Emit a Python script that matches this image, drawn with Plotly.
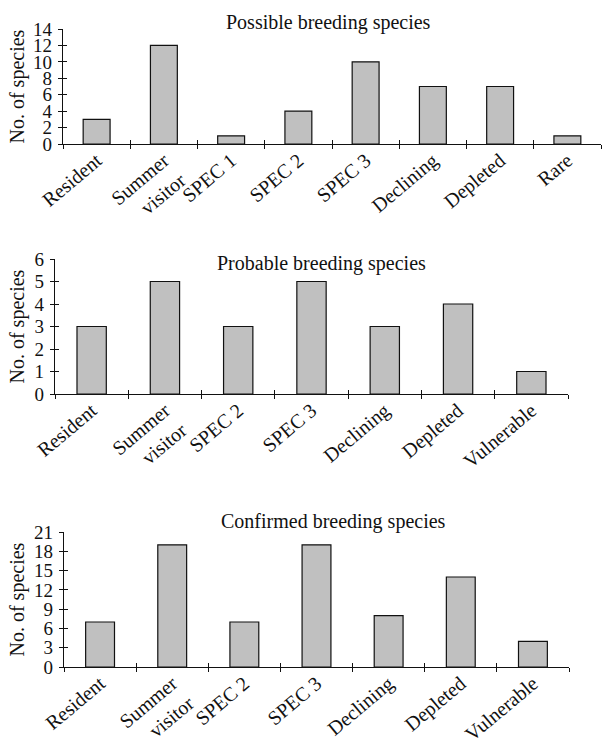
import plotly.graph_objects as go

# ---------------- data ----------------
possible_cats = ["Resident", "Summer<br>visitor", "SPEC 1", "SPEC 2", "SPEC 3",
                 "Declining", "Depleted", "Rare"]
possible_vals = [3, 12, 1, 4, 10, 7, 7, 1]

probable_cats = ["Resident", "Summer<br>visitor", "SPEC 2", "SPEC 3",
                 "Declining", "Depleted", "Vulnerable"]
probable_vals = [3, 5, 3, 5, 3, 4, 1]

confirmed_cats = ["Resident", "Summer<br>visitor", "SPEC 2", "SPEC 3",
                  "Declining", "Depleted", "Vulnerable"]
confirmed_vals = [7, 19, 7, 19, 8, 14, 4]

titles = ["Possible breeding species", "Probable breeding species",
          "Confirmed breeding species"]
y_ranges = [(0, 14, 2), (0, 6, 1), (0, 21, 3)]
y_label = "No. of species"

# ---------------- layout geometry (pixels) ----------------
W, H = 602, 740
FONT = "Liberation Serif"
panels = [
    dict(cats=possible_cats, vals=possible_vals, x0=63, x1=601, top=29, bot=144,
         tx=328, ty=22),
    dict(cats=probable_cats, vals=probable_vals, x0=55, x1=568, top=259, bot=394,
         tx=322, ty=263),
    dict(cats=confirmed_cats, vals=confirmed_vals, x0=64, x1=569, top=532, bot=667,
         tx=333, ty=521),
]

fig = go.Figure()
layout = dict(
    template="none",
    width=W, height=H, margin=dict(l=0, r=0, t=0, b=0, autoexpand=False),
    paper_bgcolor="white", plot_bgcolor="white",
    font=dict(family=FONT, size=19, color="#111"),
    showlegend=False, bargap=0.6, annotations=[],
)

for i, p in enumerate(panels):
    n = i + 1
    m = i + 4  # overlay axes for inner tick halves
    xs = "" if n == 1 else str(n)
    xd = [p["x0"] / W, p["x1"] / W]
    yd = [1 - p["bot"] / H, 1 - p["top"] / H]
    ymin, ymax, dt = y_ranges[i]

    fig.add_trace(go.Bar(
        x=p["cats"], y=p["vals"], xaxis="x" + xs, yaxis="y" + xs,
        marker=dict(color="#c0c0c0", line=dict(color="#111", width=1.2)),
        hoverinfo="skip",
    ))
    # invisible twin so the overlay axes get the same categories
    fig.add_trace(go.Bar(
        x=p["cats"], y=p["vals"], xaxis="x%d" % m, yaxis="y%d" % m,
        marker=dict(color="rgba(0,0,0,0)", line=dict(width=0)),
        hoverinfo="skip",
    ))

    layout["xaxis" + xs] = dict(
        domain=xd, anchor="y" + xs, type="category", automargin=False,
        range=[-0.5, len(p["cats"]) - 0.5],
        showline=True, linecolor="#111", linewidth=1.2,
        ticks="outside", ticklen=4, tickwidth=1.2, tickcolor="#111",
        tickson="boundaries", tickangle=-40, showgrid=False,
        tickfont=dict(family=FONT, size=20, color="#111"),
        ticklabelstandoff=-4,
    )
    layout["yaxis" + xs] = dict(
        domain=yd, anchor="x" + xs, range=[ymin, ymax], dtick=dt, automargin=False,
        showline=True, linecolor="#111", linewidth=1.2,
        ticks="outside", ticklen=4, tickwidth=1.2, tickcolor="#111",
        showgrid=False, zeroline=False,
        tickfont=dict(family=FONT, size=19, color="#111"),
        ticklabelstandoff=2,
    )
    layout["xaxis%d" % m] = dict(
        overlaying="x" + xs, matches="x" + xs, anchor="y%d" % m, type="category",
        automargin=False,
        showline=False, ticks="inside", ticklen=4, tickwidth=1.2, tickcolor="#111",
        tickson="boundaries", showticklabels=False, showgrid=False,
    )
    layout["yaxis%d" % m] = dict(
        overlaying="y" + xs, matches="y" + xs, anchor="x%d" % m, automargin=False,
        range=[ymin, ymax], dtick=dt,
        showline=False, ticks="inside", ticklen=4, tickwidth=1.2, tickcolor="#111",
        showticklabels=False, showgrid=False, zeroline=False,
    )

    layout["annotations"].append(dict(
        text=titles[i], xref="paper", yref="paper",
        x=p["tx"] / W, y=1 - p["ty"] / H, xanchor="center", yanchor="middle",
        showarrow=False, font=dict(family=FONT, size=20, color="#111"),
    ))
    layout["annotations"].append(dict(
        text=y_label, xref="paper", yref="paper", textangle=-90,
        x=17 / W, y=(yd[0] + yd[1]) / 2, xanchor="center", yanchor="middle",
        showarrow=False, font=dict(family=FONT, size=20, color="#111"),
    ))

fig.update_layout(**layout)
fig.write_html(
    "out.html",
    config={"displayModeBar": False},
    post_script="document.body.style.margin='0';document.body.style.overflow='hidden';",
)
